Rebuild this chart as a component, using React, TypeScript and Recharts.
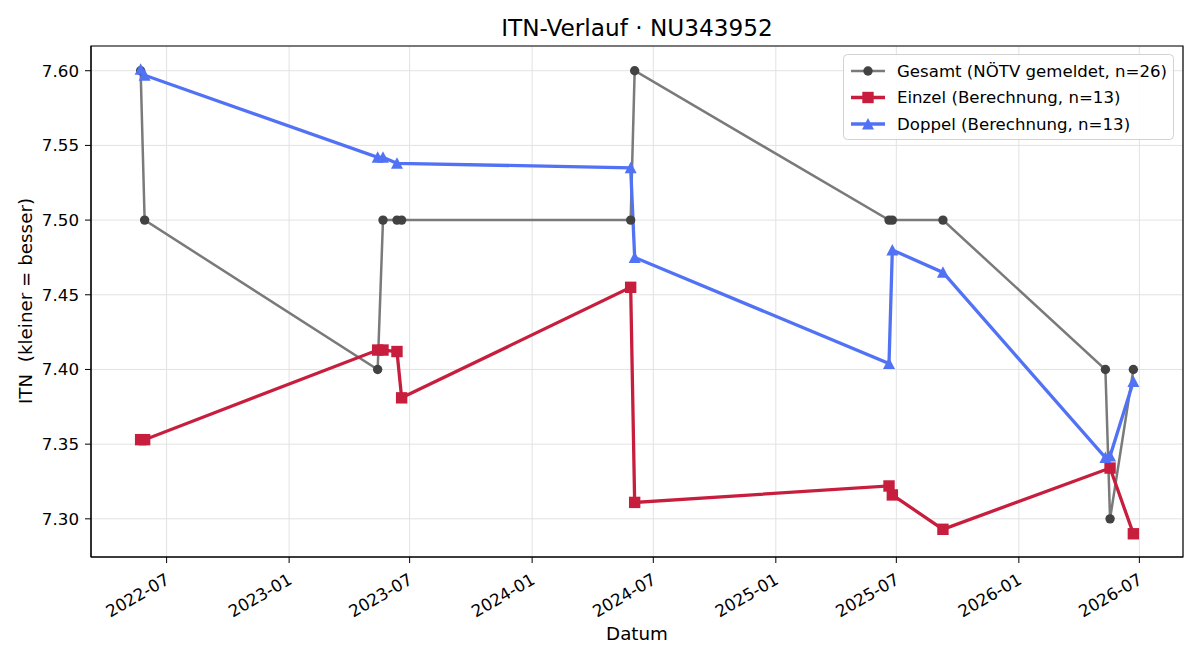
import React from "react";
import {
  LineChart,
  Line,
  XAxis,
  YAxis,
  CartesianGrid,
  ReferenceArea,
} from "recharts";

const FONT = '"DejaVu Sans", "Liberation Sans", sans-serif';

// dates of the measurements (UTC)
const dates = [
  "2022-05-23", "2022-05-29", "2023-05-14", "2023-05-22", "2023-06-12", "2023-06-19",
  "2024-05-28", "2024-06-03", "2025-06-20", "2025-06-25", "2025-09-09",
  "2026-05-11", "2026-05-18", "2026-06-22",
];

const gesamtValues = [7.6, 7.5, 7.4, 7.5, 7.5, 7.5, 7.5, 7.6, 7.5, 7.5, 7.5, 7.4, 7.3, 7.4];
// null = no entry for that date
const einzelValues = [7.353, 7.353, 7.413, 7.413, 7.412, 7.381, 7.455, 7.311, 7.322, 7.316, 7.293, null, 7.334, 7.29];
const doppelValues = [7.601, 7.597, 7.542, 7.542, 7.538, null, 7.535, 7.475, 7.404, 7.48, 7.465, 7.341, 7.342, 7.392];

const xTickLabels = ["2022-07", "2023-01", "2023-07", "2024-01", "2024-07", "2025-01", "2025-07", "2026-01", "2026-07"];
const yTicks = [7.3, 7.35, 7.4, 7.45, 7.5, 7.55, 7.6];

const toTs = (s: string) => {
  const [y, m, d] = s.split("-").map(Number);
  return Date.UTC(y, m - 1, d || 1);
};

const series = (vals: (number | null)[]) =>
  vals
    .map((v, i) => (v == null ? null : { t: toTs(dates[i]), v }))
    .filter(Boolean) as { t: number; v: number }[];

const gesamt = series(gesamtValues);
const einzel = series(einzelValues);
const doppel = series(doppelValues);

const xTicks = xTickLabels.map(toTs);

// matplotlib style 5% margins
const tMin = toTs(dates[0]);
const tMax = toTs(dates[dates.length - 1]);
const xPad = (tMax - tMin) * 0.05;
const xDomain: [number, number] = [tMin - xPad, tMax + xPad];
const allY = [...gesamtValues, ...einzelValues, ...doppelValues].filter((v) => v != null) as number[];
const yLo = Math.min(...allY);
const yHi = Math.max(...allY);
const yPad = (yHi - yLo) * 0.05;
const yDomain: [number, number] = [yLo - yPad, yHi + yPad];

const GRAY_LINE = "#7a7a7a";
const GRAY_DOT = "#424242";
const RED = "#c81e3e";
const BLUE = "#5272f6";

const fmtMonth = (t: number) => {
  const d = new Date(t);
  return `${d.getUTCFullYear()}-${String(d.getUTCMonth() + 1).padStart(2, "0")}`;
};

const CircleDot = (p: any) => (
  <circle key={`c-${p.index}`} cx={p.cx} cy={p.cy} r={4.7} fill={GRAY_DOT} />
);
const SquareDot = (p: any) => (
  <rect key={`s-${p.index}`} x={p.cx - 5.7} y={p.cy - 5.7} width={11.4} height={11.4} fill={RED} />
);
const TriDot = (p: any) => (
  <polygon
    key={`t-${p.index}`}
    points={`${p.cx},${p.cy - 6} ${p.cx - 6},${p.cy + 5.5} ${p.cx + 6},${p.cy + 5.5}`}
    fill={BLUE}
  />
);

const XTick = (p: any) => {
  const { x, y, payload } = p;
  return (
    <g transform={`translate(${x + 4},${y + 18})`}>
      <text
        x={0}
        y={0}
        textAnchor="end"
        transform="rotate(-30)"
        fontFamily={FONT}
        fontSize={16.7}
        fill="#000"
      >
        {fmtMonth(payload.value)}
      </text>
    </g>
  );
};

const legendItems = [
  { label: "Gesamt (NÖTV gemeldet, n=26)", color: GRAY_LINE, kind: "circle", width: 2.5 },
  { label: "Einzel (Berechnung, n=13)", color: RED, kind: "square", width: 3.3 },
  { label: "Doppel (Berechnung, n=13)", color: BLUE, kind: "tri", width: 3.3 },
];

const LegendBox: React.FC = () => (
  <g>
    <rect x={843.5} y={54.5} width={330} height={85} rx={4} fill="#fff" fillOpacity={0.85} stroke="#d2d2d2" />
    {legendItems.map((it, i) => {
      const cy = 71 + i * 26.5;
      return (
        <g key={it.label}>
          <line x1={851} x2={885} y1={cy} y2={cy} stroke={it.color} strokeWidth={it.width} />
          {it.kind === "circle" && <circle cx={868} cy={cy} r={4.7} fill={GRAY_DOT} />}
          {it.kind === "square" && <rect x={868 - 5.7} y={cy - 5.7} width={11.4} height={11.4} fill={RED} />}
          {it.kind === "tri" && (
            <polygon points={`868,${cy - 6} 862,${cy + 5.5} 874,${cy + 5.5}`} fill={BLUE} />
          )}
          <text x={897} y={cy} dominantBaseline="central" fontFamily={FONT} fontSize={16.6} fill="#000">
            {it.label}
          </text>
        </g>
      );
    })}
  </g>
);

export default function App() {
  return (
    <div style={{ position: "absolute", left: 0, top: 0, width: 1200, height: 660, background: "#fff" }}>
      <LineChart width={1200} height={660} margin={{ top: 46, right: 17, left: 0, bottom: 0 }}>
        <CartesianGrid stroke="#e2e2e2" strokeWidth={1} />
        <XAxis
          dataKey="t"
          type="number"
          domain={xDomain}
          allowDataOverflow
          ticks={xTicks}
          tick={<XTick />}
          tickSize={6}
          height={103}
          stroke="#000"
          tickLine={{ stroke: "#000" }}
          interval={0}
        />
        <YAxis
          dataKey="v"
          type="number"
          domain={yDomain}
          allowDataOverflow
          ticks={yTicks}
          tickFormatter={(v: number) => v.toFixed(2)}
          width={91}
          tickSize={6}
          tickMargin={6}
          stroke="#000"
          tick={{ fill: "#000", fontFamily: FONT, fontSize: 16.7 }}
          interval={0}
        />
        <Line
          data={gesamt}
          dataKey="v"
          stroke={GRAY_LINE}
          strokeWidth={2.5}
          dot={CircleDot}
          activeDot={false}
          isAnimationActive={false}
        />
        <Line
          data={einzel}
          dataKey="v"
          stroke={RED}
          strokeWidth={3.3}
          dot={SquareDot}
          activeDot={false}
          isAnimationActive={false}
        />
        <Line
          data={doppel}
          dataKey="v"
          stroke={BLUE}
          strokeWidth={3.3}
          dot={TriDot}
          activeDot={false}
          isAnimationActive={false}
        />
        <ReferenceArea
          x1={xDomain[0]}
          x2={xDomain[1]}
          y1={yDomain[0]}
          y2={yDomain[1]}
          fill="none"
          stroke="#000"
          strokeWidth={1.2}
          ifOverflow="visible"
        />
      </LineChart>
      <svg width={1200} height={660} style={{ position: "absolute", left: 0, top: 0, pointerEvents: "none" }}>
        <text x={637} y={36} textAnchor="middle" fontFamily={FONT} fontSize={23.2} fill="#000">
          ITN-Verlauf · NU343952
        </text>
        <text x={637} y={640} textAnchor="middle" fontFamily={FONT} fontSize={18.3} fill="#000">
          Datum
        </text>
        <text
          x={0}
          y={0}
          transform="translate(32,301) rotate(-90)"
          textAnchor="middle"
          fontFamily={FONT}
          fontSize={18.3}
          fill="#000"
          style={{ whiteSpace: "pre" }}
        >
          {"ITN  (kleiner = besser)"}
        </text>
        <LegendBox />
      </svg>
    </div>
  );
}
